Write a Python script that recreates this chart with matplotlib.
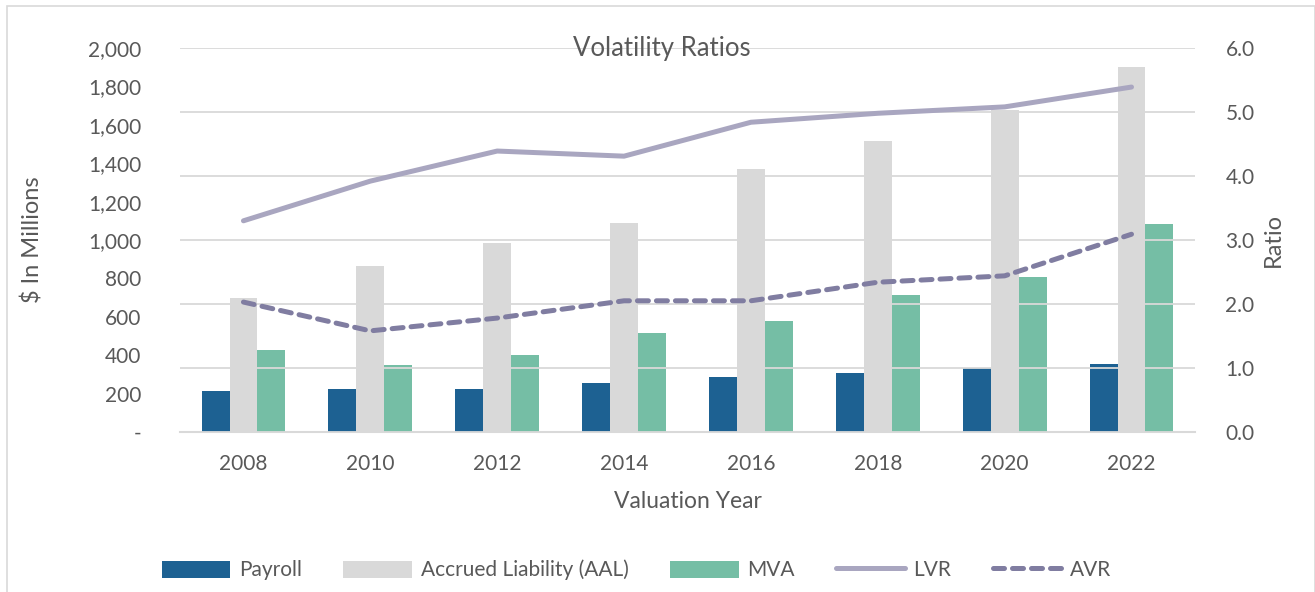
import matplotlib
matplotlib.use("Agg")
import matplotlib.pyplot as plt
import numpy as np
from matplotlib.ticker import FuncFormatter
from matplotlib.patches import Rectangle

plt.rcParams['font.family'] = ['Lato', 'DejaVu Sans']

years = ["2008", "2010", "2012", "2014", "2016", "2018", "2020", "2022"]
payroll = [214, 224, 224, 255, 286, 307, 333, 354]
aal = [698, 865, 984, 1089, 1370, 1516, 1677, 1901]
mva = [427, 349, 401, 516, 578, 714, 807, 1083]
lvr = [3.30, 3.92, 4.39, 4.31, 4.84, 4.98, 5.08, 5.39]
avr = [2.03, 1.58, 1.78, 2.05, 2.05, 2.34, 2.44, 3.09]

txt = '#595959'
fig = plt.figure(figsize=(13.15, 5.92), dpi=100)
ax = fig.add_axes([0.1369, 0.2703, 0.7718, 0.6486])
ax2 = ax.twinx()

x = np.arange(len(years))
w = 0.22
ax.bar(x - w, payroll, w, color='#1d6192', label='Payroll', zorder=3)
ax.bar(x, aal, w, color='#d9d9d9', label='Accrued Liability (AAL)', zorder=3)
ax.bar(x + w, mva, w, color='#75bea5', label='MVA', zorder=3)

ax2.plot(x, lvr, color='#a9a6c0', lw=3.6, solid_capstyle='round', label='LVR')
ax2.plot(x, avr, color='#807da1', lw=3.6, dashes=(2.2, 1.6), dash_capstyle='round', label='AVR')

ax.set_xlim(-0.5, len(years) - 0.5)
ax.set_ylim(0, 2000)
ax.set_yticks(range(0, 2001, 200))
ax.yaxis.set_major_formatter(FuncFormatter(lambda v, p: '-' if v == 0 else '{:,.0f}'.format(v)))
ax2.set_ylim(0, 6)
ax2.set_yticks(range(0, 7))
ax2.yaxis.set_major_formatter(FuncFormatter(lambda v, p: '{:.1f}'.format(v)))

ax.set_xticks(x)
ax.set_xticklabels(years)
ax2.grid(axis='y', color='#d9d9d9', lw=1.3, zorder=0)
ax.set_axisbelow(True)
ax2.set_zorder(ax.get_zorder() + 1)
ax.patch.set_visible(False)

for a in (ax, ax2):
    for s in a.spines.values():
        s.set_visible(False)
    a.tick_params(length=0, labelsize=15, colors=txt)
ax.spines['bottom'].set_visible(True)
ax.spines['bottom'].set_color('#d9d9d9')
ax.spines['bottom'].set_linewidth(1.5)
ax.tick_params(axis='y', pad=28)
ax.tick_params(axis='x', pad=16)
ax2.tick_params(axis='y', pad=22)

ax.set_xlabel('Valuation Year', fontsize=16.5, color=txt, labelpad=12)
ax.set_ylabel('$ In Millions', fontsize=17, color=txt, labelpad=32)
ax2.set_ylabel('Ratio', fontsize=17, color=txt, labelpad=6)
fig.text(0.503, 0.918, 'Volatility Ratios', fontsize=18.5, color=txt,
         ha='center', va='center')

h1, l1 = ax.get_legend_handles_labels()
h2, l2 = ax2.get_legend_handles_labels()
fig.legend(h1 + h2, l1 + l2, loc='center', bbox_to_anchor=(0.484, 0.037), ncol=5,
           frameon=False, fontsize=15, labelcolor=txt, handlelength=3.3,
           handleheight=0.9, columnspacing=2.0, handletextpad=0.4)

fig.patches.append(Rectangle((0.005, -0.01), 0.995, 1.0, transform=fig.transFigure,
                             fill=False, edgecolor='#d9d9d9', lw=1.2))

fig.savefig('out.png', dpi=100)
